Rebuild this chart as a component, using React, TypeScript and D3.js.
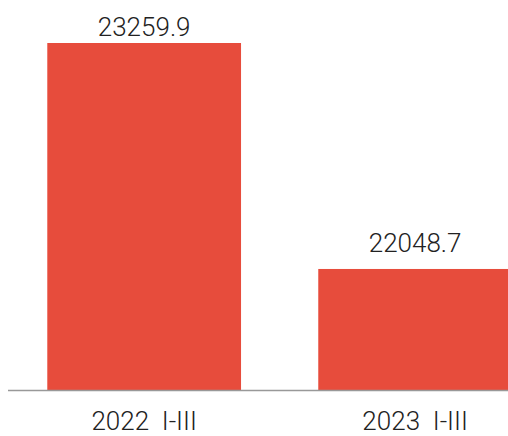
import React from "react";
import { scaleBand, scaleLinear } from "d3";

const categories = ["2022  I-III", "2023  I-III"];
const values = [23259.9, 22048.7];
const valueLabels = ["23259.9", "22048.7"];

const width = 508;
const height = 436;
const baseline = 390;

function App() {
  const x = scaleBand<string>()
    .domain(categories)
    .range([10, 549.3])
    .paddingInner(0.285)
    .paddingOuter(0.1376);

  const y = scaleLinear().domain([21400, 23259.9]).range([baseline, 43]);

  const font = "Roboto, 'Noto Sans', sans-serif";

  return (
    <svg
      width={width}
      height={height}
      style={{ position: "absolute", left: 0, top: 0 }}
    >
      {categories.map((c, i) => (
        <rect
          key={c}
          x={x(c)}
          y={y(values[i])}
          width={x.bandwidth()}
          height={baseline - y(values[i])}
          fill="#e74c3c"
        />
      ))}
      <line x1={8} x2={width} y1={baseline + 0.5} y2={baseline + 0.5} stroke="#999" strokeWidth={1.5} />
      {categories.map((c, i) => (
        <text
          key={"v" + c}
          x={(x(c) || 0) + x.bandwidth() / 2}
          y={Math.max(y(values[i]) - 17, 36)}
          textAnchor="middle"
          fontFamily={font}
          fontWeight={300}
          fontSize={26}
          fill="#222"
        >
          {valueLabels[i]}
        </text>
      ))}
      {categories.map((c) => (
        <text
          key={"x" + c}
          x={(x(c) || 0) + x.bandwidth() / 2}
          y={430}
          textAnchor="middle"
          fontFamily={font}
          fontWeight={300}
          fontSize={26}
          fill="#222"
          style={{ whiteSpace: "pre" }}
        >
          {c}
        </text>
      ))}
    </svg>
  );
}

export default App;
